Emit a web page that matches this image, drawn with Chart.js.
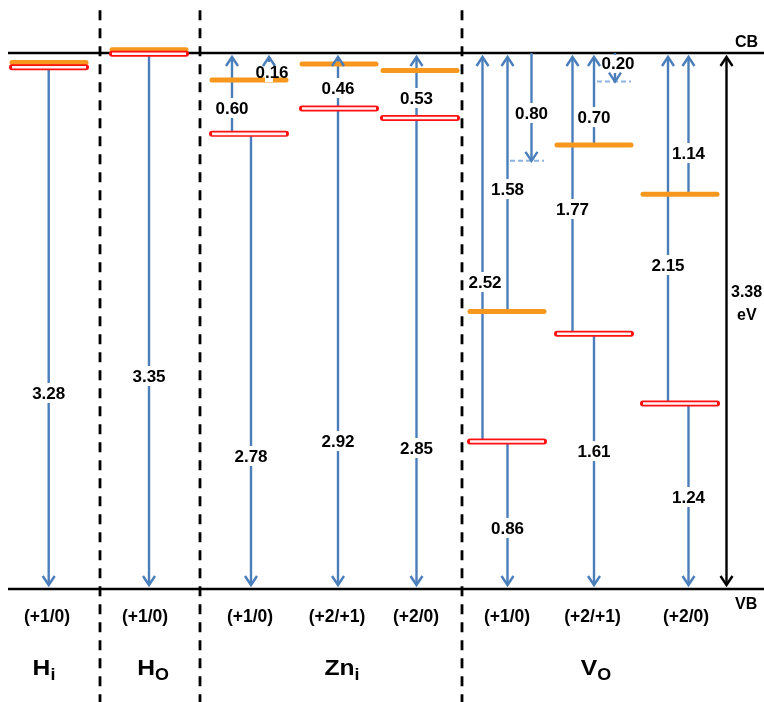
<!DOCTYPE html>
<html>
<head>
<meta charset="utf-8">
<script src="https://cdn.jsdelivr.net/npm/chart.js@4.4.0/dist/chart.umd.min.js"></script>
<style>
  html, body { margin: 0; padding: 0; background: #fff; }
  #wrap { width: 764px; height: 702px; }
</style>
</head>
<body>
<div id="wrap"><canvas id="levels"></canvas></div>
<script>
// ZnO band gap, energies measured up from the VB (eV)
var bandGap = 3.38;

var defects = ['H', 'H', 'Zn', 'V'];
var defectSubs = ['i', 'O', 'i', 'O'];
var chargeStates = ['(+1/0)', '(+1/0)', '(+1/0)', '(+2/+1)', '(+2/0)', '(+1/0)', '(+2/+1)', '(+2/0)'];

// level heights (eV above VB)
var orangeLevels = [3.32, 3.40, 3.21, 3.31, 3.27, 1.75, 2.80, 2.49];
var redLevels = [3.29, 3.375, 2.87, 3.03, 2.97, 0.93, 1.61, 1.17];
var dashLevels = [null, null, null, null, null, 2.70, 3.20, null];

// transitions: column, start, end, printed value
var transCol = [0, 1, 2, 2, 2, 3, 3, 4, 4, 5, 5, 5, 5, 6, 6, 6, 6, 7, 7, 7];
var transFrom = ['red', 'red', 'red', 'orange', 'red', 'red', 'red', 'red', 'red', 'red',
                 'orange', 'CB', 'red', 'red', 'orange', 'CB', 'red', 'red', 'orange', 'red'];
var transTo = ['VB', 'VB', 'CB', 'CB', 'VB', 'CB', 'VB', 'CB', 'VB', 'CB',
               'CB', 'dash', 'VB', 'CB', 'CB', 'dash', 'VB', 'CB', 'CB', 'VB'];
var transLabels = ['3.28', '3.35', '0.60', '0.16', '2.78', '0.46', '2.92', '0.53', '2.85', '2.52',
                   '1.58', '0.80', '0.86', '1.77', '0.70', '0.20', '1.61', '2.15', '1.14', '1.24'];

// ---- layout: x in page pixels, label heights in eV ----
var levelLeft = [12, 112, 212, 302, 383, 470, 557, 643];
var levelWidth = 74;
var dashLeft = [0, 0, 0, 0, 0, 510, 597, 0];
var dashWidth = 34;
var transX = [48.7, 149, 232, 269, 251, 338, 338, 416.5, 416.5, 482.5,
              507.5, 531.5, 507.5, 572.5, 594, 615, 594, 668, 688.5, 688.5];
var labelAt = [1.236, 1.343, 3.033, 3.26, 0.839, 3.159, 0.933, 3.096, 0.889, 1.936,
               2.522, 3.002, 0.385, 2.396, 2.976, 3.317, 0.870, 2.043, 2.749, 0.580];
var labelDx = [0, 0, 0, 3, 0, 0, 0, 0, 0, 2.5, 0, 0, 0, 0, 0, 3, 0, 0, 0, 0];
var chargeX = [47, 145, 250, 337, 416, 507, 592.5, 686];
var defectX = [44, 153, 342, 596];
var dividerX = [100, 200, 462];
var gapX = 726.5;

var Y_MIN = -0.7126, Y_MAX = 3.7142;
var tipGap = 0.025;

var ORANGE = '#F8971D', RED = '#FF1010', BLUE = '#4A7EBB', DASHBLUE = '#8DB3E2';

function levelE(kind, col) {
    if (kind == 'CB') return bandGap;
    if (kind == 'VB') return 0;
    if (kind == 'red') return redLevels[col];
    if (kind == 'orange') return orangeLevels[col];
    return dashLevels[col];
}

var datasets = [];

function seg(pts, style) {
    var d = Object.assign({
        type: 'line', data: pts, showLine: true, pointRadius: 0,
        borderWidth: 2, fill: false, tension: 0
    }, style);
    datasets.push(d);
}

// dashed column dividers
dividerX.forEach(function (x) {
    seg([{x: x, y: 3.65}, {x: x, y: Y_MIN}],
        {borderColor: '#000', borderWidth: 2.8, borderDash: [10, 8], order: 50});
});

// CB and VB edges
seg([{x: 8, y: bandGap}, {x: 764, y: bandGap}], {borderColor: '#000', borderWidth: 2.4, order: 40});
seg([{x: 8, y: 0}, {x: 764, y: 0}], {borderColor: '#000', borderWidth: 2.4, order: 40});

// gap arrow on the right
seg([{x: gapX, y: bandGap - tipGap}, {x: gapX, y: tipGap}],
    {borderColor: '#000', borderWidth: 2.4, order: 30, arrow: 'both'});

// transition arrows
transCol.forEach(function (c, i) {
    var e0 = levelE(transFrom[i], c);
    var e1 = levelE(transTo[i], c);
    if (transTo[i] == 'CB') e1 -= tipGap;
    if (transTo[i] == 'VB') e1 += tipGap;
    seg([{x: transX[i], y: e0}, {x: transX[i], y: e1}],
        {borderColor: BLUE, borderWidth: 2.4, order: 30, arrow: 'end'});
});

// dashed levels
dashLevels.forEach(function (e, c) {
    if (e == null) return;
    seg([{x: dashLeft[c], y: e}, {x: dashLeft[c] + dashWidth, y: e}],
        {borderColor: DASHBLUE, borderWidth: 2, borderDash: [5, 3], order: 25});
});

// orange and red (hollow) levels
orangeLevels.forEach(function (e, c) {
    seg([{x: levelLeft[c], y: e}, {x: levelLeft[c] + levelWidth, y: e}],
        {borderColor: ORANGE, borderWidth: 5, borderCapStyle: 'round', order: 20});
});
redLevels.forEach(function (e, c) {
    seg([{x: levelLeft[c], y: e}, {x: levelLeft[c] + levelWidth, y: e}],
        {borderColor: RED, borderWidth: 6, borderCapStyle: 'round', order: 10});
    seg([{x: levelLeft[c], y: e}, {x: levelLeft[c] + levelWidth, y: e}],
        {borderColor: '#fff4f4', borderWidth: 2.6, borderCapStyle: 'butt', order: 5});
});

function drawHead(ctx, tip, from, color) {
    var dir = tip.y < from.y ? 1 : -1; // pointing up -> wings go down
    ctx.save();
    ctx.strokeStyle = color;
    ctx.lineWidth = 2.4;
    ctx.lineJoin = 'miter';
    ctx.beginPath();
    ctx.moveTo(tip.x - 6, tip.y + dir * 9);
    ctx.lineTo(tip.x, tip.y);
    ctx.lineTo(tip.x + 6, tip.y + dir * 9);
    ctx.stroke();
    ctx.restore();
}

var FONT = '"Liberation Sans", Arial, sans-serif';

var annotate = {
    id: 'annotate',
    afterDatasetsDraw: function (chart) {
        var ctx = chart.ctx;
        var xs = chart.scales.x, ys = chart.scales.y;
        var cbY = ys.getPixelForValue(bandGap);

        // gaps in the arrows where the values sit
        ctx.fillStyle = '#fff';
        transLabels.forEach(function (t, i) {
            var x = xs.getPixelForValue(transX[i]);
            var y = ys.getPixelForValue(labelAt[i]);
            var top = Math.max(y - 10, cbY + 2);
            ctx.fillRect(x - 4, top, 8, y + 10 - top);
        });

        // arrow heads
        chart.data.datasets.forEach(function (ds, i) {
            if (!ds.arrow) return;
            var pts = chart.getDatasetMeta(i).data;
            drawHead(ctx, pts[1], pts[0], ds.borderColor);
            if (ds.arrow == 'both') drawHead(ctx, pts[0], pts[1], ds.borderColor);
        });

        ctx.fillStyle = '#000';
        ctx.textAlign = 'center';
        ctx.textBaseline = 'alphabetic';
        ctx.font = 'bold 17px ' + FONT;
        transLabels.forEach(function (t, i) {
            var x = xs.getPixelForValue(transX[i] + labelDx[i]);
            var y = ys.getPixelForValue(labelAt[i]);
            ctx.fillText(t, x, y + 6.2);
        });

        // charge states
        ctx.font = 'bold 17.5px ' + FONT;
        var yCharge = ys.getPixelForValue(0) + 33;
        chargeStates.forEach(function (s, c) {
            ctx.fillText(s, xs.getPixelForValue(chargeX[c]), yCharge);
        });

        // defect names with subscripts
        var yName = ys.getPixelForValue(0) + 86;
        var sx = 1.12;
        defects.forEach(function (d, k) {
            ctx.font = 'bold 22px ' + FONT;
            var wMain = ctx.measureText(d).width;
            ctx.font = 'bold 16px ' + FONT;
            var wSub = ctx.measureText(defectSubs[k]).width;
            var total = (wMain + wSub) * sx;
            var left = xs.getPixelForValue(defectX[k]) - total / 2;
            ctx.save();
            ctx.translate(left, yName);
            ctx.scale(sx, 1);
            ctx.textAlign = 'left';
            ctx.font = 'bold 22px ' + FONT;
            ctx.fillText(d, 0, 0);
            ctx.font = 'bold 16px ' + FONT;
            ctx.fillText(defectSubs[k], wMain, 5);
            ctx.restore();
        });

        // band labels
        ctx.textAlign = 'left';
        ctx.font = 'bold 16px ' + FONT;
        ctx.fillText('CB', 735, cbY - 6);
        ctx.fillText('VB', 735, ys.getPixelForValue(0) + 20);
        var yMid = ys.getPixelForValue(bandGap / 2);
        ctx.fillText(bandGap.toFixed(2), 731, yMid - 23.5);
        ctx.fillText('eV', 737, yMid - 1);
    }
};

var levelChart = new Chart(document.getElementById('levels').getContext('2d'), {
    type: 'scatter',
    data: { datasets: datasets },
    options: {
        responsive: true,
        maintainAspectRatio: false,
        animation: false,
        events: [],
        layout: { padding: 0 },
        plugins: { legend: { display: false }, tooltip: { enabled: false } },
        scales: {
            x: { type: 'linear', min: 0, max: 764, display: false },
            y: { type: 'linear', min: Y_MIN, max: Y_MAX, display: false }
        }
    },
    plugins: [annotate]
});
</script>
</body>
</html>
